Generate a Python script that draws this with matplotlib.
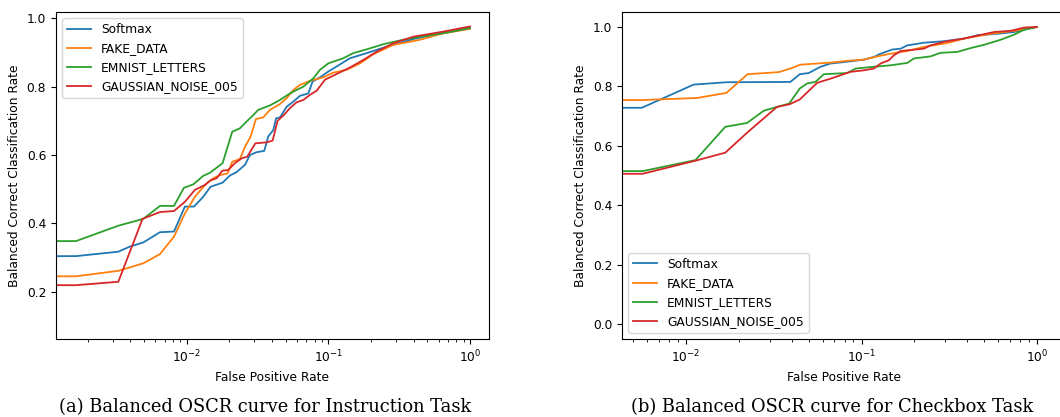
import numpy as np
import matplotlib
matplotlib.use("Agg")
import matplotlib.pyplot as plt

labels = ["Softmax", "FAKE_DATA", "EMNIST_LETTERS", "GAUSSIAN_NOISE_005"]
colors = ["tab:blue", "tab:orange", "tab:green", "tab:red"]

# (a) Instruction task -- x values are log10(FPR)
inst_softmax_x = [-4.0, -2.781, -2.482, -2.4, -2.306, -2.188, -2.089, -2.012, -1.948, -1.882, -1.831,
                  -1.746, -1.694, -1.647, -1.588, -1.553, -1.506, -1.452, -1.424, -1.388, -1.369,
                  -1.341, -1.294, -1.247, -1.2, -1.141, -1.111, -1.059, -1.0, -0.941, -0.847,
                  -0.729, -0.588, -0.4, -0.212, 0.0]
inst_softmax_y = [0.304, 0.304, 0.317, 0.332, 0.344, 0.374, 0.376, 0.449, 0.449, 0.478, 0.507,
                  0.519, 0.540, 0.550, 0.571, 0.600, 0.608, 0.612, 0.654, 0.673, 0.707,
                  0.710, 0.741, 0.756, 0.773, 0.780, 0.815, 0.827, 0.844, 0.859, 0.883,
                  0.898, 0.917, 0.939, 0.956, 0.971]
inst_fake_x = [-4.0, -2.781, -2.482, -2.306, -2.188, -2.089, -2.012, -1.941, -1.871, -1.812, -1.765,
               -1.711, -1.678, -1.624, -1.588, -1.548, -1.511, -1.459, -1.412, -1.341, -1.294,
               -1.247, -1.2, -1.129, -1.035, -0.965, -0.871, -0.776, -0.682, -0.541, -0.353,
               -0.188, 0.0]
inst_fake_y = [0.245, 0.245, 0.261, 0.283, 0.310, 0.361, 0.429, 0.478, 0.512, 0.532, 0.541,
               0.546, 0.580, 0.588, 0.624, 0.654, 0.705, 0.710, 0.732, 0.749, 0.766,
               0.790, 0.805, 0.817, 0.827, 0.841, 0.849, 0.868, 0.895, 0.922, 0.937,
               0.956, 0.969]
inst_emnist_x = [-4.0, -2.781, -2.482, -2.306, -2.188, -2.089, -2.019, -1.953, -1.882, -1.835, -1.746,
                 -1.678, -1.624, -1.576, -1.529, -1.494, -1.412, -1.341, -1.271, -1.176, -1.106,
                 -1.059, -1.0, -0.894, -0.824, -0.729, -0.612, -0.494, -0.353, -0.188, 0.0]
inst_emnist_y = [0.348, 0.348, 0.393, 0.413, 0.451, 0.451, 0.504, 0.514, 0.539, 0.548, 0.576,
                 0.668, 0.678, 0.698, 0.717, 0.732, 0.745, 0.761, 0.780, 0.800, 0.824,
                 0.849, 0.868, 0.883, 0.898, 0.909, 0.924, 0.935, 0.946, 0.956, 0.971]
inst_noise_x = [-4.0, -2.781, -2.482, -2.311, -2.188, -2.089, -2.012, -1.941, -1.871, -1.835, -1.788,
                -1.748, -1.706, -1.659, -1.612, -1.572, -1.515, -1.435, -1.393, -1.358, -1.318,
                -1.271, -1.224, -1.176, -1.129, -1.082, -1.024, -0.941, -0.847, -0.753, -0.659,
                -0.541, -0.4, -0.188, 0.0]
inst_noise_y = [0.219, 0.219, 0.229, 0.413, 0.433, 0.436, 0.463, 0.498, 0.512, 0.525, 0.532,
                0.554, 0.556, 0.576, 0.590, 0.595, 0.634, 0.637, 0.642, 0.700, 0.715,
                0.737, 0.754, 0.761, 0.776, 0.788, 0.820, 0.837, 0.856, 0.878, 0.902,
                0.927, 0.946, 0.961, 0.976]

# (b) Checkbox task
cb_softmax_x = [-4.0, -2.253, -1.958, -1.768, -1.406, -1.352, -1.301, -1.234, -1.177, -1.082, -0.987,
                -0.930, -0.891, -0.825, -0.777, -0.739, -0.644, -0.530, -0.415, -0.339, -0.225,
                -0.130, 0.0]
cb_softmax_y = [0.728, 0.728, 0.806, 0.814, 0.815, 0.841, 0.845, 0.866, 0.877, 0.883, 0.890,
                0.899, 0.910, 0.924, 0.927, 0.938, 0.947, 0.952, 0.961, 0.972, 0.977,
                0.983, 1.0]
cb_fake_x = [-4.0, -2.253, -1.939, -1.771, -1.650, -1.472, -1.406, -1.349, -1.253, -1.177, -1.082,
             -0.987, -0.910, -0.834, -0.739, -0.644, -0.510, -0.415, -0.263, -0.130, 0.0]
cb_fake_y = [0.754, 0.754, 0.761, 0.778, 0.841, 0.848, 0.860, 0.873, 0.877, 0.880, 0.886,
             0.890, 0.901, 0.910, 0.919, 0.933, 0.946, 0.961, 0.977, 0.987, 1.0]
cb_emnist_x = [-4.0, -2.248, -1.947, -1.777, -1.653, -1.558, -1.482, -1.413, -1.352, -1.310, -1.263,
               -1.215, -1.082, -1.034, -0.930, -0.834, -0.739, -0.701, -0.606, -0.549, -0.453,
               -0.377, -0.301, -0.206, -0.130, -0.072, 0.0]
cb_emnist_y = [0.515, 0.515, 0.552, 0.664, 0.677, 0.718, 0.731, 0.742, 0.793, 0.810, 0.815,
               0.841, 0.845, 0.860, 0.866, 0.871, 0.879, 0.894, 0.901, 0.913, 0.916,
               0.929, 0.940, 0.957, 0.974, 0.991, 1.0]
cb_noise_x = [-4.0, -2.248, -1.947, -1.777, -1.653, -1.482, -1.410, -1.352, -1.253, -1.177, -1.063,
              -0.987, -0.930, -0.891, -0.844, -0.815, -0.777, -0.644, -0.606, -0.530, -0.415,
              -0.244, -0.149, -0.072, 0.0]
cb_noise_y = [0.506, 0.506, 0.550, 0.577, 0.644, 0.731, 0.740, 0.756, 0.812, 0.826, 0.849,
              0.854, 0.860, 0.877, 0.888, 0.905, 0.919, 0.927, 0.938, 0.950, 0.961,
              0.983, 0.987, 0.998, 1.0]

inst = [(inst_softmax_x, inst_softmax_y), (inst_fake_x, inst_fake_y),
        (inst_emnist_x, inst_emnist_y), (inst_noise_x, inst_noise_y)]
cb = [(cb_softmax_x, cb_softmax_y), (cb_fake_x, cb_fake_y),
      (cb_emnist_x, cb_emnist_y), (cb_noise_x, cb_noise_y)]

fs = 8.8
fig = plt.figure(figsize=(10.6, 4.17), dpi=100)
ax1 = fig.add_axes([0.0528, 0.187, 0.4085, 0.784])
ax2 = fig.add_axes([0.5868, 0.187, 0.418, 0.784])

for ax, curves in [(ax1, inst), (ax2, cb)]:
    for (x, y), lab, c in zip(curves, labels, colors):
        ax.plot(10 ** np.array(x), y, color=c, lw=1.3, label=lab)
    ax.set_xscale("log")
    ax.set_xlabel("False Positive Rate", fontsize=fs)
    ax.set_ylabel("Balanced Correct Classification Rate", fontsize=fs)
    ax.tick_params(labelsize=fs)

ax1.set_xlim(10 ** -2.922, 10 ** 0.134)
ax1.set_ylim(0.0615, 1.018)
ax1.set_yticks([0.2, 0.4, 0.6, 0.8, 1.0])
ax1.legend(loc="upper left", fontsize=fs)

ax2.set_xlim(10 ** -2.366, 10 ** 0.161)
ax2.set_ylim(-0.05, 1.05)
ax2.legend(loc="lower left", fontsize=fs)

# sub-figure captions
fig.text(0.25, 0.024, "(a) Balanced OSCR curve for Instruction Task",
         ha="center", va="center", fontsize=12.9, family="DejaVu Serif")
fig.text(0.7854, 0.024, "(b) Balanced OSCR curve for Checkbox Task",
         ha="center", va="center", fontsize=12.9, family="DejaVu Serif")

fig.savefig("out.png", dpi=100)
